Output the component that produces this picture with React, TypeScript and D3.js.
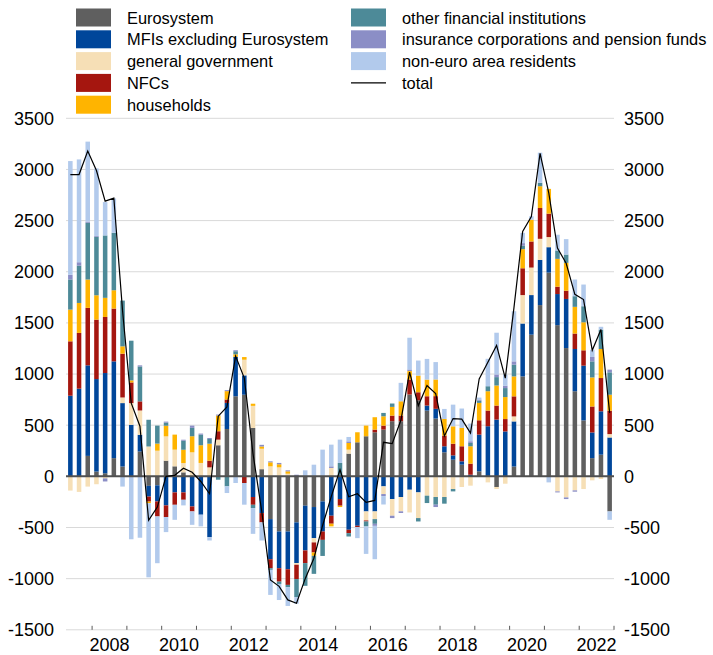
import * as d3 from 'd3';

// Quarterly periods, 2007Q2 .. 2022Q4
const quarters: string[] = [];
for (let y = 2007; y <= 2022; y++) {
  for (let q = 1; q <= 4; q++) {
    if (y === 2007 && q === 1) continue;
    quarters.push(`${y}Q${q}`);
  }
}

const yearLabels = [2008, 2010, 2012, 2014, 2016, 2018, 2020, 2022];
const yTicks = [-1500, -1000, -500, 0, 500, 1000, 1500, 2000, 2500, 3000, 3500];

const eurosystem = [0, 0, 200, 47, 30, 178, 96, 0, 243, -93,
  -88, 153, 98, 39, 0, 0, 0, 304, 463, 783,
  798, 473, 70, -418, -539, -539, -450, -287, -300, -245,
  0, 0, 222, 333, 392, 431, 457, 539, 539, 800,
  744, 643, 565, 235, 163, 114, 0, 49, 0, -104,
  0, 96, 977, 1385, 1674, 1992, 1478, 1254, 832, 547,
  178, 212, -343];

const mfis = [788, 857, 885, 904, 980, 946, 620, 504, 163, -105,
  -157, -284, -157, -157, -294, -375, -594, 0, 255, 385,
  189, -202, -359, -392, -359, -369, -398, -437, -304, -294,
  -385, -222, -522, -483, -343, -343, -98, -222, -202, -131,
  -157, 49, 95, 59, 42, 33, 16, 359, 490, 555,
  439, 441, 517, 387, 442, 248, 304, 480, 413, 535,
  251, 424, 380];

const generalGov = [-139, -152, -100, -77, -20, 0, 55, 212, 238, 292,
  251, 238, 163, 91, 235, 131, 88, 55, 0, 0,
  153, 216, 200, 98, 88, 26, -16, 0, -42, 0,
  82, 0, 39, 0, -88, -75, -75, -163, -140, -222,
  -251, -189, -202, -202, -124, -104, -91, 0, -59, -20,
  -72, 49, 278, 269, 206, 99, -147, -206, -137, -124,
  -39, -26, 33];

const nfcs = [532, 545, 562, 581, 548, 516, 428, 202, 89, -49,
  -147, -114, -121, -72, -49, 0, 65, 82, 33, 0,
  -65, -76, -91, -88, -131, -153, -140, -124, -98, -82,
  -78, -65, -33, -13, -10, 26, 39, 55, 55, 147,
  78, 91, 124, 104, 114, 147, 108, 140, 153, 137,
  121, 196, 262, 255, 301, 229, 72, 81, 151, 150,
  254, 325, 229];

const households = [310, 293, 277, 238, 187, 179, 72, 20, 0, -16,
  69, 104, 147, 130, 157, 173, 166, 153, 82, 25,
  26, 21, 22, 39, 30, 23, 0, 0, -33, 0,
  -26, -13, 65, 98, 104, 121, 91, 85, 140, 82,
  163, 163, 163, 163, 170, 180, 170, 170, 189, 196,
  215, 195, 187, 213, 213, 242, 272, 272, 261, 274,
  284, 284, 156];

const otherFin = [295, 365, 555, 572, 610, 562, 447, 388, 341, 261,
  176, 30, 0, 88, 82, 104, 46, -33, -98, 30,
  0, -32, 0, -16, -23, -23, -176, -222, -176, -157,
  0, 131, -33, 0, -49, -46, 33, 33, 0, 0,
  -33, -72, -75, -65, -23, 0, 33, 23, 49, 82,
  88, 114, 33, 0, 33, 0, 82, 81, 104, 157,
  157, 189, 219];

const insurance = [45, 33, 10, 8, -30, 0, 0, 0, 11, 0,
  0, 10, 0, 10, 22, 10, 10, 10, 10, 10,
  0, 0, 16, 10, 13, 10, 16, 0, 0, 0,
  16, 0, 16, 0, 0, -20, -20, -23, -16, 16,
  0, 0, -23, 0, 0, 0, 16, 10, 0, 26,
  23, 33, 26, 0, 0, 0, -10, -16, -13, 0,
  43, 0, 26];

const nonEuro = [1112, 1005, 783, 660, 326, 336, -100, -615, -600, -724,
  -457, -147, -147, -55, -131, -114, -33, 0, -65, -65,
  -212, -252, -177, -245, -157, -183, -65, 59, 114, 261,
  212, 228, 43, -108, -268, -326, -82, 0, 180, 310,
  147, 202, 170, 98, 212, 189, 173, 19, 268, 408,
  108, 490, 100, 33, 295, -59, 154, 151, 163, 212,
  70, 28, -82];

const total = [2950, 2950, 3180, 2990, 2690, 2720, 1620, 715, 490, -430,
  -300, 0, 10, 80, 40, -50, -170, 588, 679, 1175,
  960, 220, -340, -1012, -1075, -1208, -1240, -1000, -800, -480,
  -196, 65, -200, -170, -255, -235, 333, 320, 548, 1018,
  692, 888, 809, 395, 565, 560, 424, 953, 1116, 1280,
  960, 1650, 2394, 2540, 3157, 2770, 2231, 2083, 1779, 1728,
  1232, 1435, 620];

const series = [
  { key: 'Eurosystem', color: '#5f5f5f', values: eurosystem },
  { key: 'MFIs excluding Eurosystem', color: '#00469a', values: mfis },
  { key: 'general government', color: '#f6dfb6', values: generalGov },
  { key: 'NFCs', color: '#a5160f', values: nfcs },
  { key: 'households', color: '#ffb400', values: households },
  { key: 'other financial institutions', color: '#4d8a98', values: otherFin },
  { key: 'insurance corporations and pension funds', color: '#8b8ec6', values: insurance },
  { key: 'non-euro area residents', color: '#b2caec', values: nonEuro },
];

const FONT = '"Liberation Sans", Arial, sans-serif';
const W = 713;
const H = 655;

export default function App() {
  const x = d3.scaleBand<string>()
    .domain(quarters)
    .range([66, 614])
    .paddingInner(0.48)
    .paddingOuter(0.24);
  const y = d3.scaleLinear().domain([-1500, 3500]).range([629.8, 118.3]);
  const step = x.step();
  const slotStart = (q: string) => (x(q) as number) - step * 0.24;

  const rows = quarters.map((q, i) => {
    const r: any = { q };
    series.forEach(s => { r[s.key] = s.values[i]; });
    return r;
  });
  const stacked = d3.stack<any>()
    .keys(series.map(s => s.key))
    .offset(d3.stackOffsetDiverging)(rows);

  const line = d3.line<number>()
    .x((_, i) => (x(quarters[i]) as number) + x.bandwidth() / 2)
    .y(d => y(d));

  const yearTicks = d3.range(2008, 2024).map(yr =>
    yr === 2023 ? 614 : slotStart(`${yr}Q1`));

  const legendLeft = series.slice(0, 5);
  const legendRight = series.slice(5);

  return (
    <svg width={W} height={H} style={{ position: 'absolute', left: 0, top: 0, fontFamily: FONT }}>
      <rect width={W} height={H} fill="#fff" />
      {/* gridlines */}
      {yTicks.map(t => (
        <line key={t} x1={66} x2={614} y1={y(t)} y2={y(t)} stroke="#d9d9d9" strokeWidth={1} />
      ))}
      {/* bars */}
      {stacked.map((layer, li) => (
        <g key={layer.key} fill={series[li].color}>
          {layer.map((d, i) => {
            const h = Math.abs(y(d[0]) - y(d[1]));
            if (h < 0.01) return null;
            return (
              <rect key={i} x={x(quarters[i])} width={x.bandwidth()}
                y={Math.min(y(d[0]), y(d[1]))} height={h} />
            );
          })}
        </g>
      ))}
      {/* zero line */}
      <line x1={66} x2={614} y1={y(0)} y2={y(0)} stroke="#505050" strokeWidth={2} />
      {/* total */}
      <path d={line(total) as string} fill="none" stroke="#000" strokeWidth={1.2} />
      {/* x axis ticks and labels */}
      {yearTicks.map((tx, i) => (
        <line key={i} x1={tx} x2={tx} y1={y(-1500) - 4} y2={y(-1500)} stroke="#595959" strokeWidth={1} />
      ))}
      {yearLabels.map(yr => (
        <text key={yr} x={slotStart(`${yr}Q1`) + step * 2} y={651} fontSize={18}
          textAnchor="middle" fill="#000">{yr}</text>
      ))}
      {/* y axis labels */}
      {yTicks.map(t => (
        <g key={t}>
          <text x={54} y={y(t)} dy="0.35em" fontSize={18} textAnchor="end" fill="#000">{t}</text>
          <text x={624} y={y(t)} dy="0.35em" fontSize={18} textAnchor="start" fill="#000">{t}</text>
        </g>
      ))}
      {/* legend */}
      {legendLeft.map((s, i) => (
        <g key={s.key} transform={`translate(76, ${17.5 + i * 21.8})`}>
          <rect x={0} y={-9} width={35} height={18} fill={s.color} />
          <text x={51} y={6} fontSize={16.4} fill="#000">{s.key}</text>
        </g>
      ))}
      {legendRight.map((s, i) => (
        <g key={s.key} transform={`translate(351, ${17.5 + i * 21.8})`}>
          <rect x={0} y={-9} width={35} height={18} fill={s.color} />
          <text x={51} y={6} fontSize={16.4} fill="#000">{s.key}</text>
        </g>
      ))}
      <g transform={`translate(351, ${17.5 + 3 * 21.8})`}>
        <line x1={0} x2={35} y1={0} y2={0} stroke="#000" strokeWidth={1.2} />
        <text x={51} y={6} fontSize={16.4} fill="#000">total</text>
      </g>
    </svg>
  );
}
